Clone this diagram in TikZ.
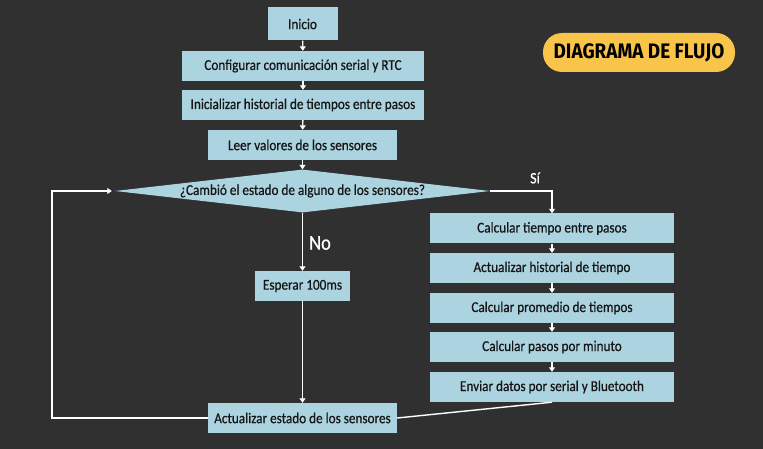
\documentclass[tikz,border=0pt]{standalone}
\usepackage{fontspec}
\usepackage{graphicx}
\usetikzlibrary{arrows.meta,shapes.geometric}
\setmainfont{Carlito}
\newfontfamily\boxfont[FakeStretch=0.88,FakeBold=0.6]{Carlito}
\newfontfamily\titlefont{Fira Sans}
\definecolor{board}{RGB}{48,48,48}
\definecolor{boxblue}{RGB}{172,211,224}
\definecolor{inkdark}{RGB}{22,22,22}
\definecolor{pill}{RGB}{249,196,74}
\begin{document}
\begin{tikzpicture}[x=1pt,y=-1pt,
  flowbox/.style={fill=boxblue,draw=none,text=inkdark,font=\boxfont\fontsize{15}{17}\selectfont,minimum height=30pt,inner sep=0pt,anchor=center},
  decbox/.style={diamond,fill=boxblue,draw=none,text=inkdark,font=\boxfont\fontsize{15}{17}\selectfont,aspect=8.7,inner sep=0pt,minimum width=375pt,minimum height=43pt},
  arr/.style={draw=white,line width=1.4pt,-{Triangle[width=6pt,length=4.5pt]}},
  plainline/.style={draw=white,line width=1.4pt},
  lbl/.style={text=white,inner sep=0pt}]
\fill[board] (0,0) rectangle (763,449);
\useasboundingbox (0,0) rectangle (763,449);
% title
\node[fill=pill,rounded corners=19pt,minimum width=192pt,minimum height=39pt,inner sep=0pt,text=black,font=\titlefont\bfseries\fontsize{21}{24}\selectfont] (title) at (639,52.5) {\scalebox{0.9}[1]{DIAGRAMA DE FLUJO}};
% left column
\node[flowbox,minimum width=70pt,minimum height=33pt] (inicio) at (302.5,24) {Inicio};
\node[flowbox,minimum width=242pt] (config) at (303,66) {Configurar comunicación serial y RTC};
\node[flowbox,minimum width=242pt] (inicial) at (303,105) {Inicializar historial de tiempos entre pasos};
\node[flowbox,minimum width=189pt] (leer) at (302.5,145) {Leer valores de los sensores};
\node[decbox] (dec) at (302.5,191) {¿Cambió el estado de alguno de los sensores?};
\node[flowbox,minimum width=95pt] (esperar) at (302.5,286) {Esperar 100ms};
\node[flowbox,minimum width=189pt] (actest) at (302.5,418) {Actualizar estado de los sensores};
% right column
\node[flowbox,minimum width=244pt] (calc1) at (552,228.5) {Calcular tiempo entre pasos};
\node[flowbox,minimum width=244pt] (acthist) at (552,268) {Actualizar historial de tiempo};
\node[flowbox,minimum width=244pt] (prom) at (552,308) {Calcular promedio de tiempos};
\node[flowbox,minimum width=244pt] (ppm) at (552,347) {Calcular pasos por minuto};
\node[flowbox,minimum width=244pt] (env) at (552,387) {Enviar datos por serial y Bluetooth};
% labels
\node[lbl,font=\boxfont\fontsize{21}{23}\selectfont] (nolbl) at (320,243) {No};
\node[lbl,font=\boxfont\fontsize{16}{18}\selectfont] (silbl) at (535,178) {Sí};
% connectors
\draw[arr] (inicio) -- (config);
\draw[arr] (config) -- (inicial);
\draw[arr] (inicial) -- (leer);
\draw[arr] (leer) -- (dec.north);
\draw[arr] (dec.south) -- (esperar);
\draw[arr] (esperar) -- (actest);
\draw[arr] (dec.east) -| (calc1.north);
\draw[arr] (calc1) -- (acthist);
\draw[arr] (acthist) -- (prom);
\draw[arr] (prom) -- (ppm);
\draw[arr] (ppm) -- (env);
\draw[arr] (actest.west) -- ++(-156,0) |- ([xshift=-3pt]dec.west);
\draw[plainline] (actest.east) -- (env.south);
\end{tikzpicture}
\end{document}
